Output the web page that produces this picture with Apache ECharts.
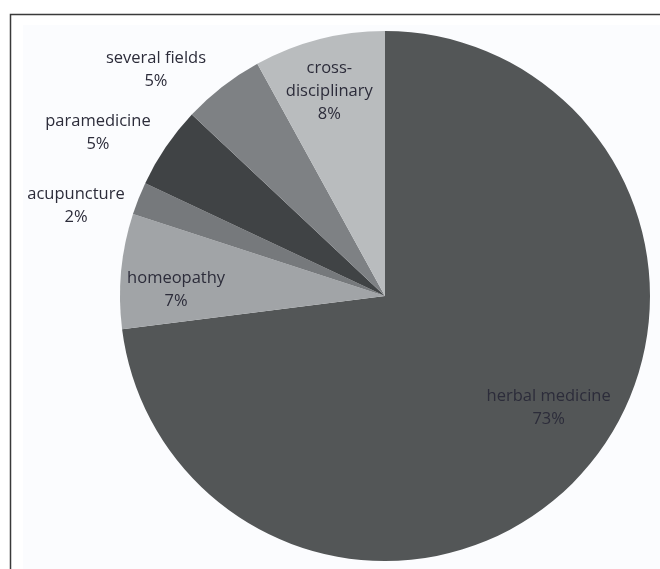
<!DOCTYPE html>
<html>
	<head>
		<meta charset="utf-8">
		<title></title>
		<script src="https://cdn.jsdelivr.net/npm/echarts@6/dist/echarts.min.js"></script>
		<style>
			html, body { margin: 0; padding: 0; background: #ffffff; }
		</style>
	</head>

	<body>
		<div id="main" style="width: 660px; height: 569px;"></div>
		<script type="text/javascript">
			var categories = ['herbal medicine', 'homeopathy', 'acupuncture', 'paramedicine', 'several fields', 'cross-disciplinary'];
			var shares = [73, 7, 2, 5, 5, 8];
			var colors = ['#535657', '#a1a4a7', '#76797c', '#404345', '#7e8184', '#b9bcbe'];
			// label nudges from the middle of each slice, to sit where the original put them
			var labelOffsets = [[62, 22], [-74, 7], [-183, -40], [-175, -87], [-146, -119], [-22, -73]];

			var myChart = echarts.init(document.getElementById("main"));

			var pieData = categories.map(function (name, i) {
				return {
					name: name,
					value: shares[i],
					itemStyle: { color: colors[i] },
					label: { offset: labelOffsets[i] }
				};
			});

			option = {
				animation: false,
				backgroundColor: '#ffffff',
				graphic: [
					{
						type: 'rect',
						shape: { x: 23, y: 25, width: 640, height: 550 },
						style: { fill: '#fbfcfe' },
						z: -1
					},
					{
						type: 'polyline',
						shape: { points: [[10.5, 570], [10.5, 14.5], [661, 14.5]] },
						style: { stroke: '#3a3a3a', lineWidth: 1.5, fill: null }
					}
				],
				series: [
					{
						name: 'fields',
						type: 'pie',
						center: [385, 296],
						radius: 265,
						startAngle: 90,
						clockwise: true,
						avoidLabelOverlap: false,
						emphasis: { disabled: true },
						itemStyle: { borderWidth: 0 },
						label: {
							show: true,
							position: 'inside',
							fontFamily: 'Open Sans',
							fontSize: 16.5,
							lineHeight: 23,
							color: '#2c2c3a',
							align: 'center',
							formatter: function (p) {
								return p.name.replace('-', '-\n') + '\n' + p.value + '%';
							}
						},
						labelLine: { show: false },
						data: pieData
					}
				]
			};
			myChart.setOption(option);
		</script>
	</body>
</html>
